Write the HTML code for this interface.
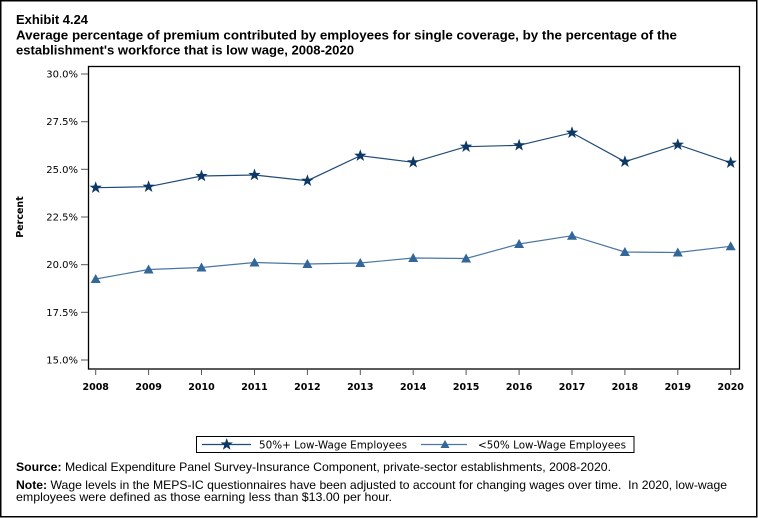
<!DOCTYPE html>
<html><head><meta charset="utf-8"><style>
html,body{margin:0;padding:0;background:#fff;}
svg{display:block;}
text{white-space:pre;}
</style></head><body>
<svg width="758" height="518" viewBox="0 0 758 518" xmlns="http://www.w3.org/2000/svg">
<rect x="0.75" y="0.75" width="756" height="516" fill="#fff" stroke="#000" stroke-width="1.5"/>
<g font-family="Liberation Sans, Arial, sans-serif" font-weight="bold" fill="#000">
<text x="16" y="24" font-size="13" textLength="72" lengthAdjust="spacingAndGlyphs">Exhibit 4.24</text>
<text x="16" y="39.5" font-size="13" textLength="661" lengthAdjust="spacingAndGlyphs">Average percentage of premium contributed by employees for single coverage, by the percentage of the</text>
<text x="16" y="54.5" font-size="13" textLength="338" lengthAdjust="spacingAndGlyphs">establishment's workforce that is low wage, 2008-2020</text>
</g>
<!-- plot frame -->
<rect x="88.5" y="66.5" width="651" height="302.5" fill="none" stroke="#000" stroke-width="1.3"/>
<!-- y ticks -->
<g stroke="#555" stroke-width="1">
<line x1="81" y1="74" x2="88" y2="74"/>
<line x1="81" y1="121.7" x2="88" y2="121.7"/>
<line x1="81" y1="169.3" x2="88" y2="169.3"/>
<line x1="81" y1="217" x2="88" y2="217"/>
<line x1="81" y1="264.7" x2="88" y2="264.7"/>
<line x1="81" y1="312.3" x2="88" y2="312.3"/>
<line x1="81" y1="360" x2="88" y2="360"/>
</g>
<g font-family="DejaVu Sans, Verdana, sans-serif" font-size="10" fill="#000" text-anchor="end">
<text x="78" y="77.5">30.0%</text>
<text x="78" y="125.2">27.5%</text>
<text x="78" y="172.8">25.0%</text>
<text x="78" y="220.5">22.5%</text>
<text x="78" y="268.2">20.0%</text>
<text x="78" y="315.8">17.5%</text>
<text x="78" y="363.5">15.0%</text>
</g>
<text transform="translate(23,217) rotate(-90)" font-family="DejaVu Sans, Verdana, sans-serif" font-size="9.5" font-weight="bold" text-anchor="middle">Percent</text>
<!-- x ticks -->
<g stroke="#555" stroke-width="1">
<line x1="95.7" y1="369" x2="95.7" y2="375"/>
<line x1="148.6" y1="369" x2="148.6" y2="375"/>
<line x1="201.5" y1="369" x2="201.5" y2="375"/>
<line x1="254.5" y1="369" x2="254.5" y2="375"/>
<line x1="307.4" y1="369" x2="307.4" y2="375"/>
<line x1="360.3" y1="369" x2="360.3" y2="375"/>
<line x1="413.2" y1="369" x2="413.2" y2="375"/>
<line x1="466.1" y1="369" x2="466.1" y2="375"/>
<line x1="519.1" y1="369" x2="519.1" y2="375"/>
<line x1="572" y1="369" x2="572" y2="375"/>
<line x1="624.9" y1="369" x2="624.9" y2="375"/>
<line x1="677.8" y1="369" x2="677.8" y2="375"/>
<line x1="730.7" y1="369" x2="730.7" y2="375"/>
</g>
<g font-family="DejaVu Sans, Verdana, sans-serif" font-size="9.5" font-weight="bold" fill="#000" text-anchor="middle">
<text x="95.7" y="390">2008</text>
<text x="148.6" y="390">2009</text>
<text x="201.5" y="390">2010</text>
<text x="254.5" y="390">2011</text>
<text x="307.4" y="390">2012</text>
<text x="360.3" y="390">2013</text>
<text x="413.2" y="390">2014</text>
<text x="466.1" y="390">2015</text>
<text x="519.1" y="390">2016</text>
<text x="572" y="390">2017</text>
<text x="624.9" y="390">2018</text>
<text x="677.8" y="390">2019</text>
<text x="730.7" y="390">2020</text>
</g>
<!-- series lines -->
<polyline fill="none" stroke="#1f4b78" stroke-width="1.2" points="95.7,187.7 148.6,186.7 201.5,176 254.5,175 307.4,180.7 360.3,155.7 413.2,162.3 466.1,146.7 519.1,145.3 572,132.7 624.9,161.7 677.8,144.7 730.7,162.7"/>
<polyline fill="none" stroke="#4a76a3" stroke-width="1.2" points="95.7,279 148.6,269.5 201.5,267.5 254.5,262.5 307.4,264 360.3,263 413.2,258 466.1,258.5 519.1,244 572,235.7 624.9,252 677.8,252.5 730.7,246.3"/>
<!-- star markers -->
<g fill="#0c3863">
<polygon transform="translate(95.7,187.7)" points="0,-6.5 1.53,-2.1 6.18,-2.01 2.47,0.8 3.82,5.26 0,2.6 -3.82,5.26 -2.47,0.8 -6.18,-2.01 -1.53,-2.1"/>
<polygon transform="translate(148.6,186.7)" points="0,-6.5 1.53,-2.1 6.18,-2.01 2.47,0.8 3.82,5.26 0,2.6 -3.82,5.26 -2.47,0.8 -6.18,-2.01 -1.53,-2.1"/>
<polygon transform="translate(201.5,176)" points="0,-6.5 1.53,-2.1 6.18,-2.01 2.47,0.8 3.82,5.26 0,2.6 -3.82,5.26 -2.47,0.8 -6.18,-2.01 -1.53,-2.1"/>
<polygon transform="translate(254.5,175)" points="0,-6.5 1.53,-2.1 6.18,-2.01 2.47,0.8 3.82,5.26 0,2.6 -3.82,5.26 -2.47,0.8 -6.18,-2.01 -1.53,-2.1"/>
<polygon transform="translate(307.4,180.7)" points="0,-6.5 1.53,-2.1 6.18,-2.01 2.47,0.8 3.82,5.26 0,2.6 -3.82,5.26 -2.47,0.8 -6.18,-2.01 -1.53,-2.1"/>
<polygon transform="translate(360.3,155.7)" points="0,-6.5 1.53,-2.1 6.18,-2.01 2.47,0.8 3.82,5.26 0,2.6 -3.82,5.26 -2.47,0.8 -6.18,-2.01 -1.53,-2.1"/>
<polygon transform="translate(413.2,162.3)" points="0,-6.5 1.53,-2.1 6.18,-2.01 2.47,0.8 3.82,5.26 0,2.6 -3.82,5.26 -2.47,0.8 -6.18,-2.01 -1.53,-2.1"/>
<polygon transform="translate(466.1,146.7)" points="0,-6.5 1.53,-2.1 6.18,-2.01 2.47,0.8 3.82,5.26 0,2.6 -3.82,5.26 -2.47,0.8 -6.18,-2.01 -1.53,-2.1"/>
<polygon transform="translate(519.1,145.3)" points="0,-6.5 1.53,-2.1 6.18,-2.01 2.47,0.8 3.82,5.26 0,2.6 -3.82,5.26 -2.47,0.8 -6.18,-2.01 -1.53,-2.1"/>
<polygon transform="translate(572,132.7)" points="0,-6.5 1.53,-2.1 6.18,-2.01 2.47,0.8 3.82,5.26 0,2.6 -3.82,5.26 -2.47,0.8 -6.18,-2.01 -1.53,-2.1"/>
<polygon transform="translate(624.9,161.7)" points="0,-6.5 1.53,-2.1 6.18,-2.01 2.47,0.8 3.82,5.26 0,2.6 -3.82,5.26 -2.47,0.8 -6.18,-2.01 -1.53,-2.1"/>
<polygon transform="translate(677.8,144.7)" points="0,-6.5 1.53,-2.1 6.18,-2.01 2.47,0.8 3.82,5.26 0,2.6 -3.82,5.26 -2.47,0.8 -6.18,-2.01 -1.53,-2.1"/>
<polygon transform="translate(730.7,162.7)" points="0,-6.5 1.53,-2.1 6.18,-2.01 2.47,0.8 3.82,5.26 0,2.6 -3.82,5.26 -2.47,0.8 -6.18,-2.01 -1.53,-2.1"/>
</g>
<!-- triangle markers -->
<g fill="#336699">
<polygon transform="translate(95.7,279)" points="0,-5 5,4 -5,4"/>
<polygon transform="translate(148.6,269.5)" points="0,-5 5,4 -5,4"/>
<polygon transform="translate(201.5,267.5)" points="0,-5 5,4 -5,4"/>
<polygon transform="translate(254.5,262.5)" points="0,-5 5,4 -5,4"/>
<polygon transform="translate(307.4,264)" points="0,-5 5,4 -5,4"/>
<polygon transform="translate(360.3,263)" points="0,-5 5,4 -5,4"/>
<polygon transform="translate(413.2,258)" points="0,-5 5,4 -5,4"/>
<polygon transform="translate(466.1,258.5)" points="0,-5 5,4 -5,4"/>
<polygon transform="translate(519.1,244)" points="0,-5 5,4 -5,4"/>
<polygon transform="translate(572,235.7)" points="0,-5 5,4 -5,4"/>
<polygon transform="translate(624.9,252)" points="0,-5 5,4 -5,4"/>
<polygon transform="translate(677.8,252.5)" points="0,-5 5,4 -5,4"/>
<polygon transform="translate(730.7,246.3)" points="0,-5 5,4 -5,4"/>
</g>
<!-- legend -->
<rect x="196.5" y="436.5" width="437.5" height="16" fill="#fff" stroke="#000" stroke-width="1"/>
<line x1="202" y1="444.5" x2="251" y2="444.5" stroke="#1f4b78" stroke-width="1.2"/>
<polygon fill="#0c3863" transform="translate(226.7,444.5)" points="0,-6.5 1.53,-2.1 6.18,-2.01 2.47,0.8 3.82,5.26 0,2.6 -3.82,5.26 -2.47,0.8 -6.18,-2.01 -1.53,-2.1"/>
<line x1="421" y1="444.5" x2="467" y2="444.5" stroke="#4a76a3" stroke-width="1.2"/>
<polygon fill="#336699" transform="translate(445,444.5)" points="0,-4.5 4.5,3.5 -4.5,3.5"/>
<g font-family="DejaVu Sans, Verdana, sans-serif" font-size="10.5" fill="#000">
<text x="259" y="448.5" textLength="148" lengthAdjust="spacingAndGlyphs">50%+ Low-Wage Employees</text>
<text x="478" y="448.5" textLength="148" lengthAdjust="spacingAndGlyphs">&lt;50% Low-Wage Employees</text>
</g>
<!-- footer -->
<g font-family="Liberation Sans, Arial, sans-serif" font-size="12" fill="#000">
<text x="16" y="471" textLength="595" lengthAdjust="spacingAndGlyphs"><tspan font-weight="bold">Source:</tspan> Medical Expenditure Panel Survey-Insurance Component, private-sector establishments, 2008-2020.</text>
<text x="16" y="489" textLength="711" lengthAdjust="spacingAndGlyphs"><tspan font-weight="bold">Note:</tspan> Wage levels in the MEPS-IC questionnaires have been adjusted to account for changing wages over time.  In 2020, low-wage</text>
<text x="16" y="501" textLength="376" lengthAdjust="spacingAndGlyphs">employees were defined as those earning less than $13.00 per hour.</text>
</g>
</svg>
</body></html>
